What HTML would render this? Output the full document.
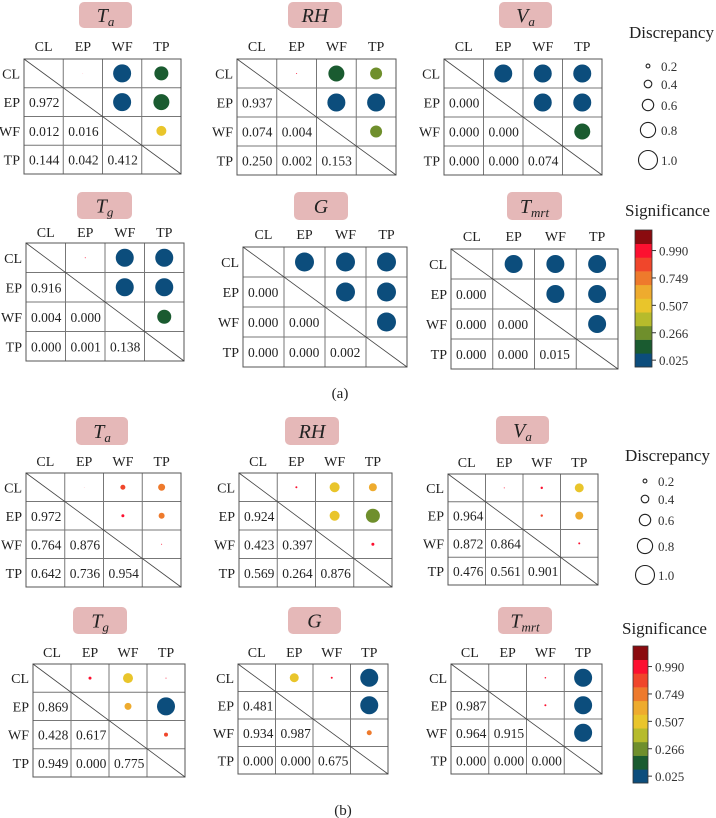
<!DOCTYPE html>
<html><head><meta charset="utf-8">
<style>
html,body{margin:0;padding:0;background:#fff;}
svg{display:block;font-family:"Liberation Serif",serif;}
</style></head>
<body>
<svg id="fig" width="716" height="818" viewBox="0 0 716 818" xmlns="http://www.w3.org/2000/svg"></svg>
<script>
// ---- data ----
const labels = ["CL","EP","WF","TP"];
// pair order: EP-CL, WF-CL, WF-EP, TP-CL, TP-EP, TP-WF
const pairs = [[1,0],[2,0],[2,1],[3,0],[3,1],[3,2]];
const panelNames = ["a-Ta","a-RH","a-Va","a-Tg","a-G","a-Tmrt","b-Ta","b-RH","b-Va","b-Tg","b-G","b-Tmrt"];
const titleMain = ["T","RH","V","T","G","T","T","RH","V","T","G","T"];
const titleSub  = ["a","","a","g","","mrt","a","","a","g","","mrt"];
const pA_Ta   = [0.972,0.012,0.016,0.144,0.042,0.412];
const pA_RH   = [0.937,0.074,0.004,0.250,0.002,0.153];
const pA_Va   = [0.000,0.000,0.000,0.000,0.000,0.074];
const pA_Tg   = [0.916,0.004,0.000,0.000,0.001,0.138];
const pA_G    = [0.000,0.000,0.000,0.000,0.000,0.002];
const pA_Tmrt = [0.000,0.000,0.000,0.000,0.000,0.015];
const pB_Ta   = [0.972,0.764,0.876,0.642,0.736,0.954];
const pB_RH   = [0.924,0.423,0.397,0.569,0.264,0.876];
const pB_Va   = [0.964,0.872,0.864,0.476,0.561,0.901];
const pB_Tg   = [0.869,0.428,0.617,0.949,0.000,0.775];
const pB_G    = [0.481,0.934,0.987,0.000,0.000,0.675];
const pB_Tmrt = [0.987,0.964,0.915,0.000,0.000,0.000];
const dA_Ta   = [0.02,0.9,0.9,0.7,0.8,0.5];
const dA_RH   = [0.05,0.8,0.9,0.6,0.9,0.6];
const dA_Va   = [0.9,0.9,0.9,0.9,0.9,0.8];
const dA_Tg   = [0.05,0.9,0.9,0.9,0.9,0.7];
const dA_G    = [0.95,0.95,0.95,0.95,0.95,0.95];
const dA_Tmrt = [0.9,0.9,0.9,0.9,0.9,0.9];
const dB_Ta   = [0.02,0.25,0.15,0.35,0.3,0.05];
const dB_RH   = [0.1,0.5,0.5,0.4,0.7,0.15];
const dB_Va   = [0.05,0.12,0.12,0.45,0.4,0.1];
const dB_Tg   = [0.15,0.5,0.35,0.05,0.9,0.2];
const dB_G    = [0.45,0.1,0.0,0.9,0.9,0.25];
const dB_Tmrt = [0.0,0.08,0.1,0.9,0.9,0.9];
const pvals = [pA_Ta,pA_RH,pA_Va,pA_Tg,pA_G,pA_Tmrt,pB_Ta,pB_RH,pB_Va,pB_Tg,pB_G,pB_Tmrt];
const discs = [dA_Ta,dA_RH,dA_Va,dA_Tg,dA_G,dA_Tmrt,dB_Ta,dB_RH,dB_Va,dB_Tg,dB_G,dB_Tmrt];
const sigTicks = ["0.990","0.749","0.507","0.266","0.025"];
const sigEdges = [0.025,0.146,0.266,0.387,0.507,0.628,0.749,0.869,0.990];
const discLevels = [0.2,0.4,0.6,0.8,1.0];

// ---- layout (not data) ----
const colors = ["#0c4d7c","#1a5b30","#6f8f2c","#b6bb2c","#e9c52b","#eeab2e","#ee7a2c","#f0462b","#fc1030","#8a0b0f"];
const geom = [
 {t:[79,2,53,26], g:[24,59,181,174], cy:51},
 {t:[288,2,54,26], g:[237,59,396,175], cy:51},
 {t:[499,2,53,26], g:[444,59,602,175], cy:51},
 {t:[77,192,55,27], g:[26,243,184,361], cy:237},
 {t:[294,192,54,28], g:[243,247,407,367], cy:239},
 {t:[507,192,55,28], g:[451,249,618,369], cy:241},
 {t:[76,417,52,28], g:[26,473,181,587], cy:466},
 {t:[285,417,54,28], g:[239,473,392,587], cy:466},
 {t:[496,416,53,28], g:[448,474,598,585], cy:467},
 {t:[73,607,54,27], g:[33,664,185,777], cy:657},
 {t:[288,607,53,27], g:[238,664,388,774], cy:657},
 {t:[498,607,54,27], g:[451,664,602,774], cy:657}
];
const NS = "http://www.w3.org/2000/svg";
const svg = document.getElementById("fig");
function mk(tag, attrs, parent){
  const e = document.createElementNS(NS, tag);
  for (const k in attrs) e.setAttribute(k, attrs[k]);
  (parent||svg).appendChild(e);
  return e;
}
function colorOf(p){
  let i = 0;
  while (i < sigEdges.length && p >= sigEdges[i]) i++;
  return colors[i];
}
function rOf(d){ return d*10; }

panelNames.forEach((nm, k) => {
  const G = geom[k];
  const grp = mk("g", {});
  
  
  // title box
  const tb = mk("rect", {x:G.t[0], y:G.t[1], width:G.t[2], height:G.t[3], rx:5, fill:"#e5b8b8"}, grp);
  
  
  const tt = mk("text", {x:G.t[0]+G.t[2]/2, y:G.t[1]+G.t[3]/2+7, "text-anchor":"middle", "font-size":"20", "font-style":"italic", fill:"#222"}, grp);
  
  
  const s1 = mk("tspan", {}, tt); s1.textContent = titleMain[k];
  if (titleSub[k]) { const s2 = mk("tspan", {"font-size":"13", dy:"4"}, tt); s2.textContent = titleSub[k]; }
  const [x0,y0,x1,y1] = G.g;
  const cw = (x1-x0)/4, ch = (y1-y0)/4;
  // labels
  labels.forEach((l,i) => {
    const c = mk("text", {x:x0+cw*(i+0.5), y:G.cy, "text-anchor":"middle", "font-size":"14", fill:"#222"}, grp);
    
    
    c.textContent = l;
    const r = mk("text", {x:x0-4, y:y0+ch*(i+0.5)+5, "text-anchor":"end", "font-size":"14", fill:"#222"}, grp);
    
    
    r.textContent = l;
  });
  // grid
  for (let i=1;i<4;i++){
    mk("line",{x1:x0+cw*i,y1:y0,x2:x0+cw*i,y2:y1,stroke:"#777","stroke-width":1},grp);
    mk("line",{x1:x0,y1:y0+ch*i,x2:x1,y2:y0+ch*i,stroke:"#777","stroke-width":1},grp);
  }
  const bd = mk("rect",{x:x0,y:y0,width:x1-x0,height:y1-y0,fill:"none",stroke:"#555","stroke-width":1},grp);
  
  
  mk("line",{x1:x0,y1:y0,x2:x1,y2:y1,stroke:"#444","stroke-width":0.8},grp);
  // cells
  pairs.forEach((pr, q) => {
    const [i,j] = pr;
    const p = pvals[k][q], d = discs[k][q];
    const tx = mk("text",{x:x0+cw*j+5,y:y0+ch*(i+0.5)+5,"font-size":"13.5",fill:"#222"},grp);
    
    
    tx.textContent = p.toFixed(3);
    const r = rOf(d);
    if (r > 0) {
      const c = mk("circle",{cx:x0+cw*(i+0.5),cy:y0+ch*(j+0.5),r:r,fill:colorOf(p)},grp);
      
      
    }
  });
});

// section labels
[[340,398,"(a)"],[343,815,"(b)"]].forEach(s=>{
  const t = mk("text",{x:s[0],y:s[1],"text-anchor":"middle","font-size":"15",fill:"#222"});
  
  
  t.textContent = s[2];
});

// legends
const legends = [
  {dt:[629,38], dx:648, dy:[66,84,105,130,160], st:[625,216], bar:[635,230,17,137]},
  {dt:[625,461], dx:645, dy:[481,499,520,546,575], st:[622,634], bar:[633,646,15,137]}
];
legends.forEach((L, li) => {
  const dt = mk("text",{x:L.dt[0],y:L.dt[1],"font-size":"17",fill:"#222"});
  
  
  dt.textContent = "Discrepancy";
  discLevels.forEach((v, i) => {
    const c = mk("circle",{cx:L.dx,cy:L.dy[i],r:Math.max(1.5,rOf(v)*0.95),fill:"none",stroke:"#222","stroke-width":1.1});
    
    
    const t = mk("text",{x:L.dx+13,y:L.dy[i]+5,"font-size":"13",fill:"#333"});
    
    
    t.textContent = v.toFixed(1);
  });
  const st = mk("text",{x:L.st[0],y:L.st[1],"font-size":"17",fill:"#222"});
  
  
  st.textContent = "Significance";
  const [bx,by,bw,bh] = L.bar;
  const segH = bh/colors.length;
  colors.forEach((c, i) => {
    const r = mk("rect",{x:bx,y:by+bh-segH*(i+1),width:bw,height:segH+0.3,fill:c});
    
    
  });
  mk("rect",{x:bx,y:by,width:bw,height:bh,fill:"none",stroke:"#333","stroke-width":0.8});
  sigTicks.forEach((tk, i) => {
    const y = by + segH*(1.5 + 2*i);
    mk("line",{x1:bx+bw,y1:y,x2:bx+bw+4,y2:y,stroke:"#333","stroke-width":1});
    const t = mk("text",{x:bx+bw+7,y:y+5,"font-size":"13",fill:"#333"});
    
    
    t.textContent = tk;
  });
});
</script>
</body></html>
